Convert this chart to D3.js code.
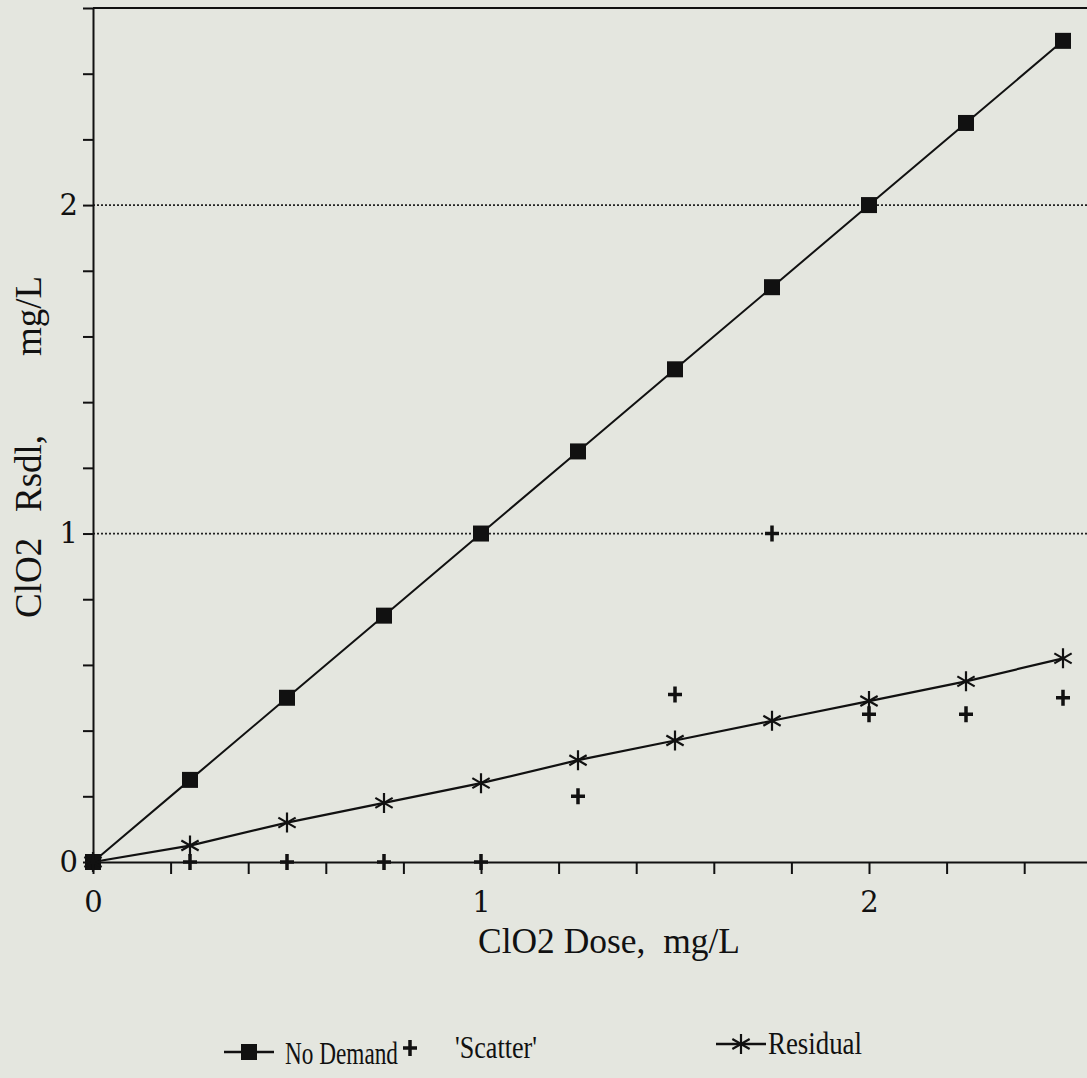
<!DOCTYPE html>
<html>
<head>
<meta charset="utf-8">
<script src="https://cdn.jsdelivr.net/npm/d3@7"></script>
<style>
  html, body { margin: 0; padding: 0; background: #e4e6df; }
  svg { display: block; }
  .tick line { stroke: #111; stroke-width: 2px; }
  .domain { stroke: #111; stroke-width: 2px; }
</style>
</head>
<body>
<div class="C"></div>
<script>
// ClO2 dose (mg/L)
var dose = [0, 0.25, 0.5, 0.75, 1.0, 1.25, 1.5, 1.75, 2.0, 2.25, 2.5];
// series
var noDemand = [0, 0.25, 0.5, 0.75, 1.0, 1.25, 1.5, 1.75, 2.0, 2.25, 2.5];
var scatter  = [0, 0, 0, 0, 0, 0.2, 0.51, 1.0, 0.45, 0.45, 0.5];
var residual = [0, 0.05, 0.12, 0.18, 0.24, 0.31, 0.37, 0.43, 0.49, 0.55, 0.62];
var xTicks = [0, 0.2, 0.4, 0.6, 0.8, 1, 1.2, 1.4, 1.6, 1.8, 2, 2.2, 2.4, 2.6];
var yTicks = [0, 0.2, 0.4, 0.6, 0.8, 1, 1.2, 1.4, 1.6, 1.8, 2, 2.2, 2.4, 2.6];
var gridVals = [1, 2];

var width = 1087, height = 1078;
var svg = d3.select('.C').append('svg').attr('width', width).attr('height', height);

var x = d3.scaleLinear().domain([0, 2.6]).range([93, 93 + 2.6 * 388]);
var y = d3.scaleLinear().domain([0, 2.6]).range([862, 8]);

var fmt = function (d) { return Number.isInteger(d) ? d : ''; };

// dotted grid lines
svg.append('g').selectAll('line').data(gridVals).enter().append('line')
    .attr('x1', x(0)).attr('x2', width)
    .attr('y1', function (d) { return y(d); }).attr('y2', function (d) { return y(d); })
    .style('stroke', '#222').style('stroke-width', 1.8).style('stroke-dasharray', '2,2');

// top frame line
svg.append('line').attr('x1', x(0)).attr('x2', width).attr('y1', y(2.6)).attr('y2', y(2.6))
    .style('stroke', '#111').style('stroke-width', 2);

var xAxis = svg.append('g').attr('transform', 'translate(0,' + y(0) + ')')
    .call(d3.axisBottom(x).tickValues(xTicks).tickFormat(fmt).tickSize(12).tickSizeOuter(0));
xAxis.selectAll('text').attr('dy', '1.2em')
    .style('font-family', 'DejaVu Serif').style('font-size', '29px').style('fill', '#111');

var yAxis = svg.append('g').attr('transform', 'translate(' + x(0) + ',0)')
    .call(d3.axisLeft(y).tickValues(yTicks).tickFormat(fmt).tickSize(10).tickSizeOuter(0));
yAxis.selectAll('text').attr('x', -15)
    .style('font-family', 'DejaVu Serif').style('font-size', '29px').style('fill', '#111');

// axis titles
svg.append('text').text('ClO2 Dose,  mg/L').attr('x', 478).attr('y', 953)
    .attr('textLength', 262).attr('lengthAdjust', 'spacingAndGlyphs').style('white-space', 'pre')
    .style('font-family', 'Liberation Serif').style('font-size', '35px').style('fill', '#111');
var yTitle = svg.append('text')
    .attr('transform', 'translate(41,618) rotate(-90)')
    .style('font-family', 'Liberation Serif').style('font-size', '37px').style('fill', '#111');
yTitle.append('tspan').attr('x', 0).text('ClO2');
yTitle.append('tspan').attr('x', 106).text('Rsdl,');
yTitle.append('tspan').attr('x', 262).text('mg/L');

var line = d3.line().x(function (d) { return x(d[0]); }).y(function (d) { return y(d[1]); });
var nd = dose.map(function (d, i) { return [d, noDemand[i]]; });
var sc = dose.map(function (d, i) { return [d, scatter[i]]; });
var rs = dose.map(function (d, i) { return [d, residual[i]]; });

svg.append('path').datum(nd).attr('d', line).style('fill', 'none').style('stroke', '#111').style('stroke-width', 2);
svg.append('path').datum(rs).attr('d', line).style('fill', 'none').style('stroke', '#111').style('stroke-width', 2.2);

function square(g, cx, cy) {
    g.append('rect').attr('x', cx - 8).attr('y', cy - 8).attr('width', 16).attr('height', 16).style('fill', '#111');
}
function plus(g, cx, cy) {
    g.append('path').attr('d', 'M' + (cx - 7) + ',' + cy + 'h14M' + cx + ',' + (cy - 8) + 'v16')
        .style('stroke', '#111').style('stroke-width', 3.5);
}
function star(g, cx, cy) {
    var r = 10, p = '';
    [90, 30, 150].forEach(function (a) {
        var dx = r * Math.cos(a * Math.PI / 180), dy = r * Math.sin(a * Math.PI / 180);
        p += 'M' + (cx - dx) + ',' + (cy - dy) + 'L' + (cx + dx) + ',' + (cy + dy);
    });
    g.append('path').attr('d', p).style('stroke', '#111').style('stroke-width', 2.2);
}

var marks = svg.append('g');
nd.forEach(function (d) { square(marks, x(d[0]), y(d[1])); });
sc.forEach(function (d) { plus(marks, x(d[0]), y(d[1])); });
rs.forEach(function (d) { star(marks, x(d[0]), y(d[1])); });

// legend
var leg = svg.append('g');
function legText(t, lx, ly, len) {
    leg.append('text').text(t).attr('x', lx).attr('y', ly)
        .attr('textLength', len).attr('lengthAdjust', 'spacingAndGlyphs')
        .style('font-family', 'Liberation Serif').style('font-size', '31px').style('fill', '#111');
}
leg.append('line').attr('x1', 224).attr('x2', 274).attr('y1', 1052).attr('y2', 1052).style('stroke', '#111').style('stroke-width', 2.5);
square(leg, 249, 1052);
legText('No Demand', 285, 1064, 113);
plus(leg, 410, 1048);
legText("'Scatter'", 455, 1058, 82);
leg.append('line').attr('x1', 716).attr('x2', 766).attr('y1', 1044).attr('y2', 1044).style('stroke', '#111').style('stroke-width', 2.5);
star(leg, 741, 1044);
legText('Residual', 768, 1054, 94);
</script>
</body>
</html>
